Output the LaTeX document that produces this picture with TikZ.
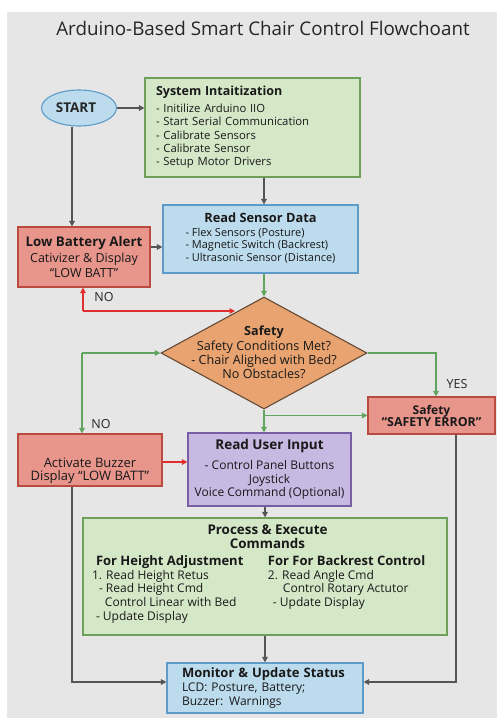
\documentclass[tikz,border=0pt]{standalone}
\usepackage{fontspec}
\setmainfont{Open Sans}
\newfontfamily\titlefont{Open Sans}
\usetikzlibrary{arrows.meta,shapes.geometric}
\definecolor{bgc}{RGB}{230,230,230}
\definecolor{gfill}{RGB}{212,232,200}
\definecolor{gdraw}{RGB}{110,160,90}
\definecolor{bfill}{RGB}{188,219,237}
\definecolor{bdraw}{RGB}{95,155,200}
\definecolor{rfill}{RGB}{232,150,140}
\definecolor{rdraw}{RGB}{185,75,65}
\definecolor{ofill}{RGB}{232,163,112}
\definecolor{odraw}{RGB}{100,75,55}
\definecolor{pfill}{RGB}{200,185,226}
\definecolor{pdraw}{RGB}{120,95,165}
\definecolor{garr}{RGB}{85,85,85}
\definecolor{grarr}{RGB}{95,165,95}
\definecolor{rarr}{RGB}{225,45,45}
\newcommand\placetext[2]{\smash{\raisebox{#1}{#2}}}
\tikzset{
  box/.style={draw, line width=1.1pt, inner sep=0pt, align=center, text=black!90},
  greenbox/.style={box, fill=gfill, draw=gdraw},
  bluebox/.style={box, fill=bfill, draw=bdraw},
  redbox/.style={box, fill=rfill, draw=rdraw},
  purplebox/.style={box, fill=pfill, draw=pdraw},
  tip/.style={-{Triangle[width=5.5pt,length=5.5pt]}},
  grayline/.style={draw=garr, line width=1.3pt, tip},
  greenline/.style={draw=grarr, line width=1.3pt, tip},
  redline/.style={draw=rarr, line width=1.2pt, tip},
  lbl/.style={font=\fontsize{12.5}{14}\selectfont, text=black!85, inner sep=0pt},
}
\begin{document}
\begin{tikzpicture}[x=1pt,y=-1pt]
\useasboundingbox (0,0) rectangle (497,718);
\fill[white] (0,0) rectangle (497,718);
\fill[bgc] (7,12) rectangle (497,718);
\node[inner sep=0pt, font=\titlefont\fontsize{18.8}{20}\selectfont, text=black!85] (title) at (263,28) {Arduino-Based Smart Chair Control Flowchoant};

% nodes
\node[ellipse, draw=bdraw, fill=bfill, line width=1.1pt, minimum width=75pt, minimum height=36pt, inner sep=0pt, font=\fontsize{13.5}{15}\selectfont\bfseries, text=black!85] (start) at (79,108) {START\hspace*{6pt}};

\node[greenbox, minimum width=215pt, minimum height=99pt, text width=193pt, align=left, font=\fontsize{11.3}{13.4}\selectfont] (init) at (252.5,127.5)
{{\fontsize{12.5}{13}\selectfont\bfseries System Intaitization}\\[3pt]
- Initilize Arduino IIO\\
- Start Serial Communication\\
- Calibrate Sensors\\
- Calibrate Sensor\\
- Setup Motor Drivers};

\node[redbox, minimum width=132pt, minimum height=60pt, font=\fontsize{12.5}{15}\selectfont] (lowbatt) at (84,257)
{{\fontsize{13.3}{15}\selectfont\bfseries Low Battery Alert}\\[1pt]
Cativizer \& Display\\
“LOW BATT”};

\node[bluebox, minimum width=195pt, minimum height=68pt, font=\fontsize{11}{12.8}\selectfont] (sensor) at (260.5,239)
{{\fontsize{12.8}{14}\selectfont\bfseries Read Sensor Data}\\[4pt]
\begin{tabular}{@{}l@{}}
- Flex Sensors (Posture)\\
- Magnetic Switch (Backrest)\\
- Ultrasonic Sensor (Distance)
\end{tabular}};

\node[diamond, draw=odraw, fill=ofill, line width=1.1pt, minimum width=206pt, minimum height=112pt, inner sep=0pt] (dec) at (264,353) {};
\node[inner sep=0pt, align=center, font=\fontsize{12.6}{14}\selectfont, text=black!90] (dectext) at (264,352)
{{\bfseries Safety}\\[1pt]
Safety Conditions Met?\\
- Chair Alighed with Bed?\\
No Obstacles?};

\node[redbox, minimum width=127pt, minimum height=37pt] (safety) at (431.5,415.5)
{{\fontsize{12}{14}\selectfont\bfseries Safety}\\
{\fontsize{12.4}{14}\selectfont\bfseries “SAFETY ERROR”}};

\node[redbox, minimum width=144pt, minimum height=52pt] (buzzer) at (90,460) {};
\node[inner sep=0pt, align=center, font=\fontsize{13}{13.2}\selectfont, text=black!90] (buzzertext) at (90,470.5)
{Activate Buzzer\\
Display “LOW BATT”};

\node[purplebox, minimum width=163pt, minimum height=73pt, font=\fontsize{12}{13.5}\selectfont] (user) at (269.5,469.5)
{{\fontsize{13.5}{15}\selectfont\bfseries Read User Input}\\[7pt]
- Control Panel Buttons\\
Joystick\\
Voice Command (Optional)};

\node[greenbox, minimum width=364pt, minimum height=117pt, font=\fontsize{12}{13.7}\selectfont] (process) at (265,576.5)
{\placetext{-1pt}{\begin{tabular}{@{}p{176pt}@{}p{170pt}@{}}
\multicolumn{2}{@{}c@{}}{\fontsize{13.4}{14}\selectfont\bfseries \hspace*{5pt}Process \& Execute}\\
\multicolumn{2}{@{}c@{}}{\fontsize{13.4}{14}\selectfont\bfseries \hspace*{5pt}Commands}\\[3pt]
\hspace*{4pt}{\fontsize{13}{14}\selectfont\bfseries For Height Adjustment} & {\fontsize{13}{14}\selectfont\bfseries For For Backrest Control}\\
1. Read Height Retus & 2. Read Angle Cmd\\
\hspace*{7pt}- Read Height Cmd & \hspace*{15pt}Control Rotary Actutor\\
\hspace*{13pt}Control Linear with Bed & \hspace*{5pt}- Update Display\\
\hspace*{4pt}- Update Display & \mbox{}
\end{tabular}}};

\node[bluebox, minimum width=196pt, minimum height=50pt, text width=166pt, align=left, font=\fontsize{12}{13.8}\selectfont] (monitor) at (265,688)
{{\fontsize{13}{14}\selectfont\bfseries Monitor \& Update Status}\\
LCD: Posture, Battery;\\
Buzzer: Warnings};

% helper coordinates
\coordinate (redcorner) at (83,311);
\coordinate (redend) at (235,311);
\coordinate (grcorner) at (82,353);

% connectors
\draw[grayline] (start.east) -- (start.east -| init.west);
\draw[grayline] ([xshift=-7pt]start.south) -- ([xshift=-7pt]start.south |- lowbatt.north);
\draw[grayline] (init.south -| dec.north) -- (sensor.north -| dec.north);
\draw[grayline] ([yshift=10pt]lowbatt.east) -- ([yshift=10pt]lowbatt.east -| sensor.west);
\draw[greenline] (sensor.south -| dec.north) -- (dec.north);
\draw[redline] (redcorner) -- (lowbatt.south -| redcorner);
\draw[redline] (redcorner) -- (redend);
\draw[greenline] (grcorner) -- (dec.west);
\draw[greenline] (grcorner) -- (grcorner |- buzzer.north);
\draw[greenline] (dec.east) -| ([xshift=4.5pt]safety.north);
\draw[greenline] (dec.south) -- (dec.south |- user.north);
\draw[greenline] (dec.south |- safety.west) -- (safety.west);
\draw[redline] ([yshift=-2pt]buzzer.east) -- ([yshift=-2pt]buzzer.east -| user.west);
\draw[grayline] (process.north |- user.south) -- (process.north);
\draw[grayline] (process.south) -- (monitor.north);
\draw[grayline] ([xshift=-18pt]buzzer.south) |- ([yshift=6pt]monitor.west);
\draw[grayline] ([xshift=24.5pt]safety.south) |- ([yshift=6pt]monitor.east);

% labels
\node[lbl] (no1) at (104,297) {NO};
\node[lbl] (no2) at (101,424) {NO};
\node[lbl] (yes) at (457,384) {YES};
\end{tikzpicture}
\end{document}
